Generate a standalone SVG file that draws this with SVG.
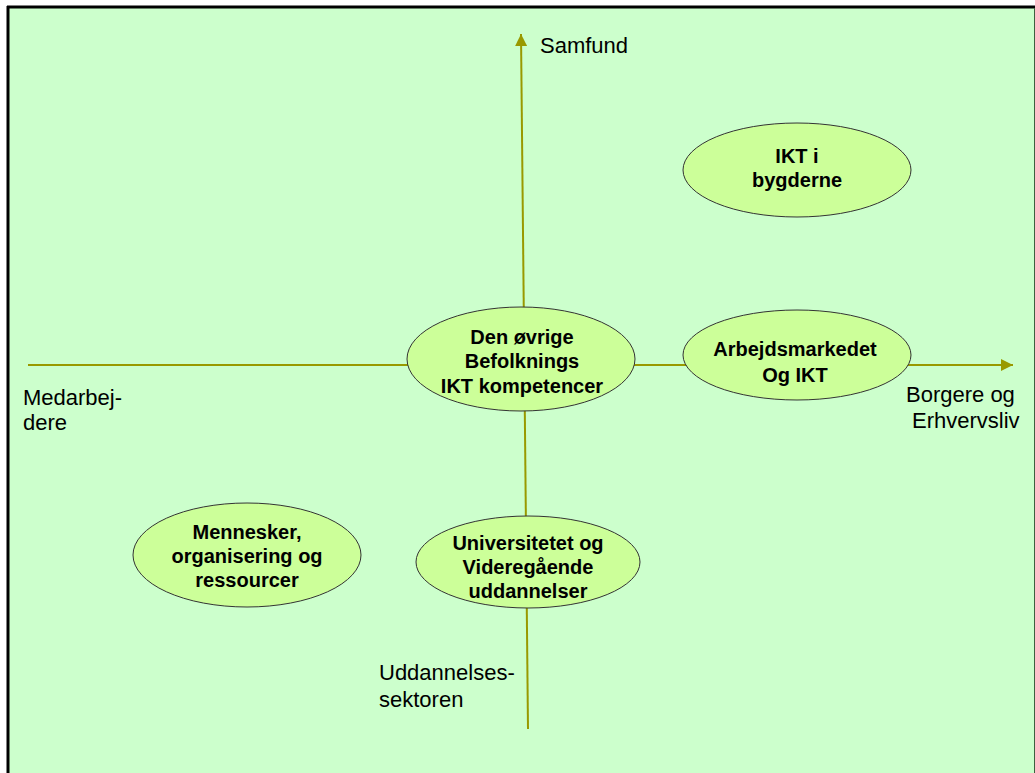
<svg xmlns="http://www.w3.org/2000/svg" width="1035" height="773" viewBox="0 0 1035 773">
<style>
.bg{fill:#CCFFCC}
.axis{stroke:#999900;stroke-width:2;fill:none}
.node ellipse{fill:#CCFF99;stroke:#333333;stroke-width:1}
.nt{font-family:"Liberation Sans",Arial,sans-serif;font-weight:bold;font-size:20px;fill:#000;text-anchor:middle}
.lbl{font-family:"Liberation Sans",Arial,sans-serif;font-size:22px;fill:#000}
</style>
<defs>
<marker id="arr" markerUnits="userSpaceOnUse" markerWidth="12" markerHeight="12" viewBox="0 0 10 10" refX="10" refY="5" orient="auto">
<path d="M0,0 L10,5 L0,10 z" fill="#999900"/>
</marker>
</defs>
<rect x="0" y="0" width="1035" height="773" fill="#ffffff"/>
<rect class="bg" x="8" y="7" width="1027" height="766"/>
<line x1="7" y1="7" x2="1035" y2="7" stroke="#000" stroke-width="3"/>
<line x1="8" y1="6" x2="8" y2="773" stroke="#000" stroke-width="3"/>
<line x1="1034.5" y1="8" x2="1034.5" y2="773" stroke="#3f5f3f" stroke-width="1"/>
<g id="connectors">
<line class="axis" x1="528" y1="729" x2="521" y2="34" marker-end="url(#arr)"/>
<line class="axis" x1="28" y1="365" x2="1013" y2="365" marker-end="url(#arr)"/>
</g>
<g id="labels">
<text class="lbl" x="540" y="53">Samfund</text>
<text class="lbl" x="906" y="402">Borgere og</text>
<text class="lbl" x="912" y="428">Erhvervsliv</text>
<text class="lbl" x="23" y="405">Medarbej-</text>
<text class="lbl" x="23" y="430">dere</text>
<text class="lbl" x="379" y="680">Uddannelses-</text>
<text class="lbl" x="379" y="707">sektoren</text>
</g>
<g id="node-ikt-bygderne" class="node">
<ellipse cx="797" cy="170" rx="114" ry="47"/>
<text class="nt" x="797" y="163">IKT i</text>
<text class="nt" x="797" y="187">bygderne</text>
</g>
<g id="node-den-ovrige" class="node">
<ellipse cx="521" cy="359" rx="114" ry="52"/>
<text class="nt" x="522" y="344">Den øvrige</text>
<text class="nt" x="522" y="368">Befolknings</text>
<text class="nt" x="522" y="393">IKT kompetencer</text>
</g>
<g id="node-arbejdsmarkedet" class="node">
<ellipse cx="797" cy="355" rx="114" ry="45"/>
<text class="nt" x="795" y="356">Arbejdsmarkedet</text>
<text class="nt" x="795" y="382">Og IKT</text>
</g>
<g id="node-mennesker" class="node">
<ellipse cx="247" cy="555" rx="114" ry="52"/>
<text class="nt" x="247" y="539">Mennesker,</text>
<text class="nt" x="247" y="563">organisering og</text>
<text class="nt" x="247" y="587">ressourcer</text>
</g>
<g id="node-universitetet" class="node">
<ellipse cx="528" cy="562" rx="112" ry="46"/>
<text class="nt" x="528" y="550">Universitetet og</text>
<text class="nt" x="528" y="574">Videregående</text>
<text class="nt" x="528" y="598">uddannelser</text>
</g>
</svg>
